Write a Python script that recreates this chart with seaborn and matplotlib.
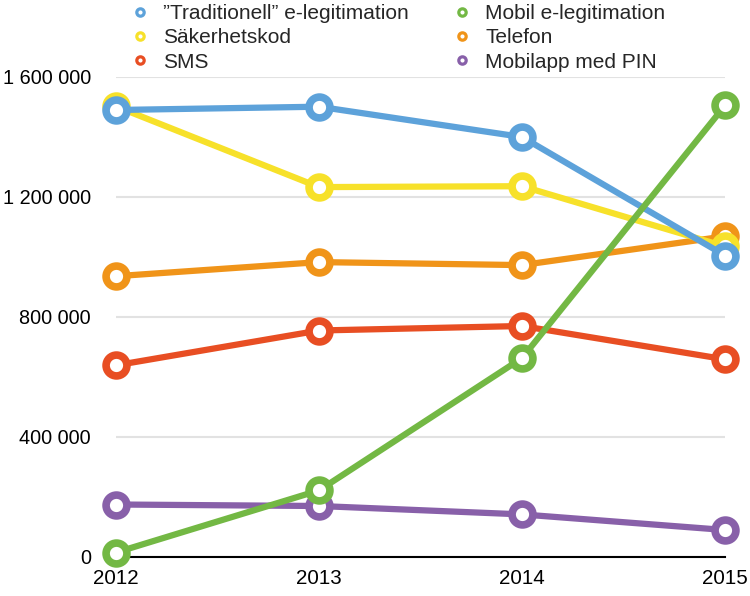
import matplotlib
matplotlib.use("Agg")
import matplotlib.pyplot as plt
import seaborn as sns
import pandas as pd
from matplotlib.lines import Line2D
from matplotlib.ticker import FuncFormatter

# ---- data ----
years = [2012, 2013, 2014, 2015]
traditionell = [1490000, 1501000, 1400000, 1005000]
sakerhetskod = [1502000, 1233000, 1236000, 1035000]
sms_vals = [639000, 755000, 770000, 659000]
mobil = [15000, 222000, 663000, 1505000]
telefon = [936000, 983000, 973000, 1069000]
mobilapp = [175000, 170000, 142000, 90000]

names = ["”Traditionell” e-legitimation", "Säkerhetskod", "SMS",
         "Mobil e-legitimation", "Telefon", "Mobilapp med PIN"]
colors = {
    names[0]: "#5DA2DA",
    names[1]: "#F7E12A",
    names[2]: "#E84E23",
    names[3]: "#73B844",
    names[4]: "#F09419",
    names[5]: "#8860A9",
}
values = {names[0]: traditionell, names[1]: sakerhetskod, names[2]: sms_vals,
          names[3]: mobil, names[4]: telefon, names[5]: mobilapp}
yticks = [0, 400000, 800000, 1200000, 1600000]

df = pd.concat([pd.DataFrame({"year": years, "value": v, "series": k})
                for k, v in values.items()], ignore_index=True)

sns.set_style("white")
plt.rcParams["font.family"] = ["Liberation Sans", "DejaVu Sans"]

fig = plt.figure(figsize=(7.5, 5.96), dpi=100)
ax = fig.add_axes([116 / 750, 1 - 557 / 596, (725 - 116) / 750, (557 - 77) / 596])

draw_order = [names[5], names[2], names[4], names[1], names[0], names[3]]
for i, name in enumerate(draw_order):
    sub = df[df["series"] == name]
    sns.lineplot(data=sub, x="year", y="value", ax=ax, color=colors[name],
                 linewidth=4.5, marker="o", markersize=15,
                 markerfacecolor="white", markeredgecolor=colors[name],
                 markeredgewidth=5.5, clip_on=False, zorder=5 + i, legend=False)

ax.set_xlim(2012, 2015)
ax.set_ylim(0, 1600000)
ax.set_xticks(years)
ax.set_xticklabels([str(y) for y in years])
ax.set_yticks(yticks)
ax.yaxis.set_major_formatter(FuncFormatter(lambda v, p: f"{v:,.0f}".replace(",", " ")))
ax.set_xlabel("")
ax.set_ylabel("")
ax.grid(axis="y", color="#E2E2E2", linewidth=1.5)
ax.grid(axis="x", visible=False)
ax.set_axisbelow(True)
for s in ["left", "right", "top"]:
    ax.spines[s].set_visible(False)
ax.spines["bottom"].set_color("black")
ax.spines["bottom"].set_linewidth(1.5)
ax.tick_params(axis="y", length=0, pad=18, labelsize=14.3, labelcolor="black")
ax.tick_params(axis="x", length=0, pad=9, labelsize=14.8, labelcolor="black")

def handles(lst):
    return [Line2D([], [], ls="none", marker="o", ms=5.3, mfc="white",
                   mec=colors[n], mew=2.3) for n in lst]

common = dict(loc="upper left", frameon=False, fontsize=15, handlelength=1.0,
              handletextpad=0.6, labelspacing=0.25, borderpad=0, borderaxespad=0)
fig.legend(handles(names[:3]), names[:3], bbox_to_anchor=(130 / 750, 0.993), **common)
fig.legend(handles(names[3:]), names[3:], bbox_to_anchor=(452 / 750, 0.993), **common)

fig.savefig("out.png", dpi=100)
